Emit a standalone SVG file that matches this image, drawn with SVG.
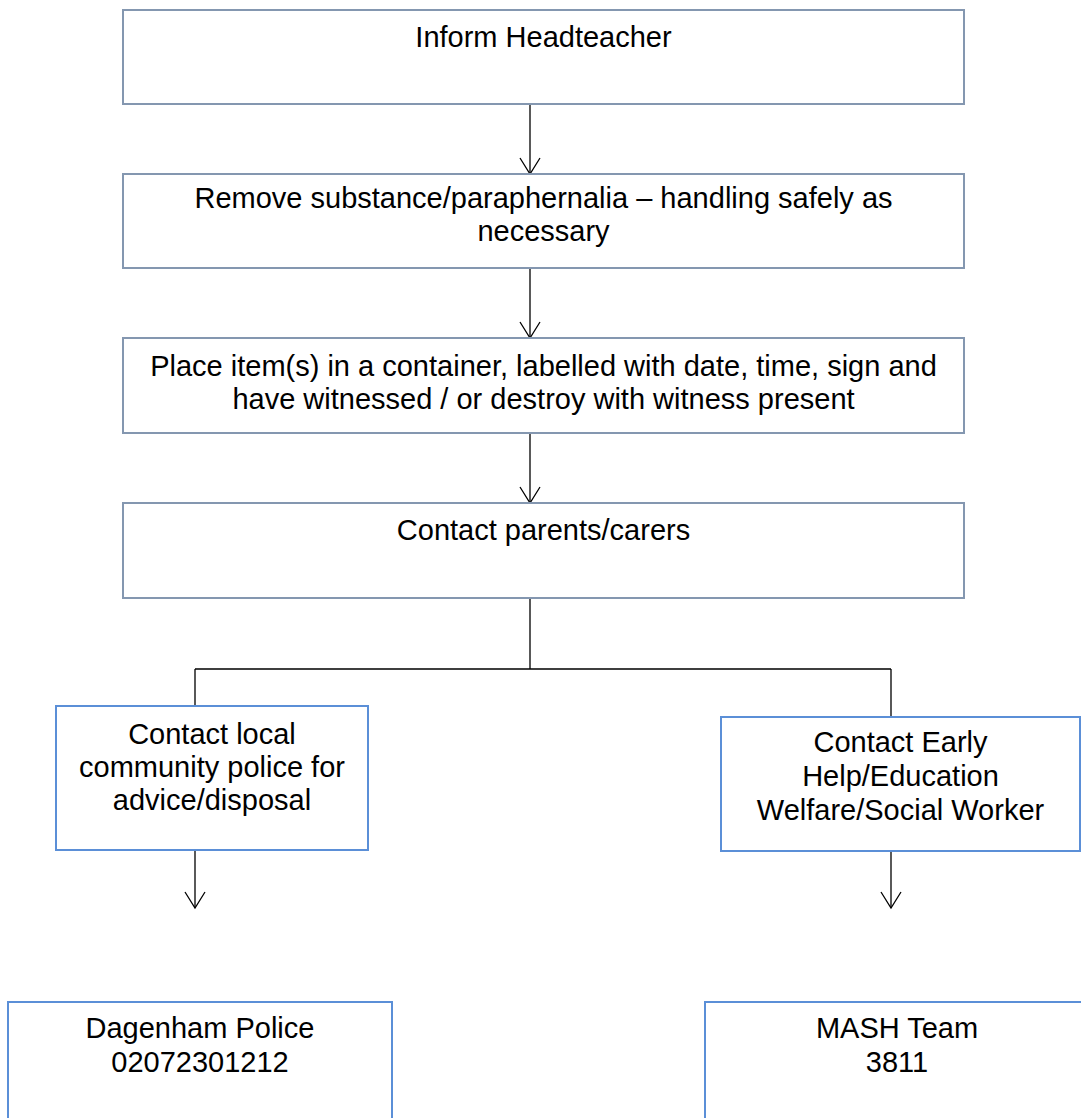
<svg xmlns="http://www.w3.org/2000/svg" width="1081" height="1118" viewBox="0 0 1081 1118">
<style>
.t{font-family:"Liberation Sans",Arial,sans-serif;font-size:29px;fill:#000;text-anchor:middle}
.b1{fill:#fff;stroke:#8497B0;stroke-width:2}
.b2{fill:#fff;stroke:#5B8FD7;stroke-width:2}
.c{fill:none;stroke:#000;stroke-width:1.3}
</style>
<defs>
<marker id="ah" markerUnits="userSpaceOnUse" markerWidth="24" markerHeight="20" viewBox="-12 -18 24 20" refX="0" refY="0" orient="auto-start-reverse">
<path d="M-10,-16 L0,0 L10,-16" fill="none" stroke="#000" stroke-width="1.3" transform="rotate(-90)"/>
</marker>
</defs>
<rect width="1081" height="1118" fill="#fff"/>
<g id="connectors">
<path class="c" d="M530,104 V174"/>
<path class="c" d="M520,158 L530,174 L540,158"/>
<path class="c" d="M530,268 V338"/>
<path class="c" d="M520,322 L530,338 L540,322"/>
<path class="c" d="M530,433 V503"/>
<path class="c" d="M520,487 L530,503 L540,487"/>
<path class="c" d="M530,598 V669 M195,669 H891 M195,669 V706 M891,669 V717"/>
<path class="c" d="M195,850 V908"/>
<path class="c" d="M185,892 L195,908 L205,892"/>
<path class="c" d="M891,851 V908"/>
<path class="c" d="M881,892 L891,908 L901,892"/>
</g>
<g id="n1">
<rect class="b1" x="123" y="10" width="841" height="94"/>
<text class="t" x="543.5" y="47">Inform Headteacher</text>
</g>
<g id="n2">
<rect class="b1" x="123" y="174" width="841" height="94"/>
<text class="t" x="543.5" y="208">Remove substance/paraphernalia – handling safely as</text>
<text class="t" x="543.5" y="241">necessary</text>
</g>
<g id="n3">
<rect class="b1" x="123" y="338" width="841" height="95"/>
<text class="t" x="543.5" y="376">Place item(s) in a container, labelled with date, time, sign and</text>
<text class="t" x="543.5" y="409">have witnessed / or destroy with witness present</text>
</g>
<g id="n4">
<rect class="b1" x="123" y="503" width="841" height="95"/>
<text class="t" x="543.5" y="540">Contact parents/carers</text>
</g>
<g id="n5">
<rect class="b2" x="56" y="706" width="312" height="144"/>
<text class="t" x="212" y="744">Contact local</text>
<text class="t" x="212" y="777">community police for</text>
<text class="t" x="212" y="810">advice/disposal</text>
</g>
<g id="n6">
<rect class="b2" x="721" y="717" width="359" height="134"/>
<text class="t" x="900.5" y="752">Contact Early</text>
<text class="t" x="900.5" y="786">Help/Education</text>
<text class="t" x="900.5" y="820">Welfare/Social Worker</text>
</g>
<g id="n7">
<rect class="b2" x="8" y="1002" width="384" height="140"/>
<text class="t" x="200" y="1038">Dagenham Police</text>
<text class="t" x="200" y="1072">02072301212</text>
</g>
<g id="n8">
<rect class="b2" x="705" y="1002" width="384" height="140"/>
<text class="t" x="897" y="1038">MASH Team</text>
<text class="t" x="897" y="1072">3811</text>
</g>
</svg>
